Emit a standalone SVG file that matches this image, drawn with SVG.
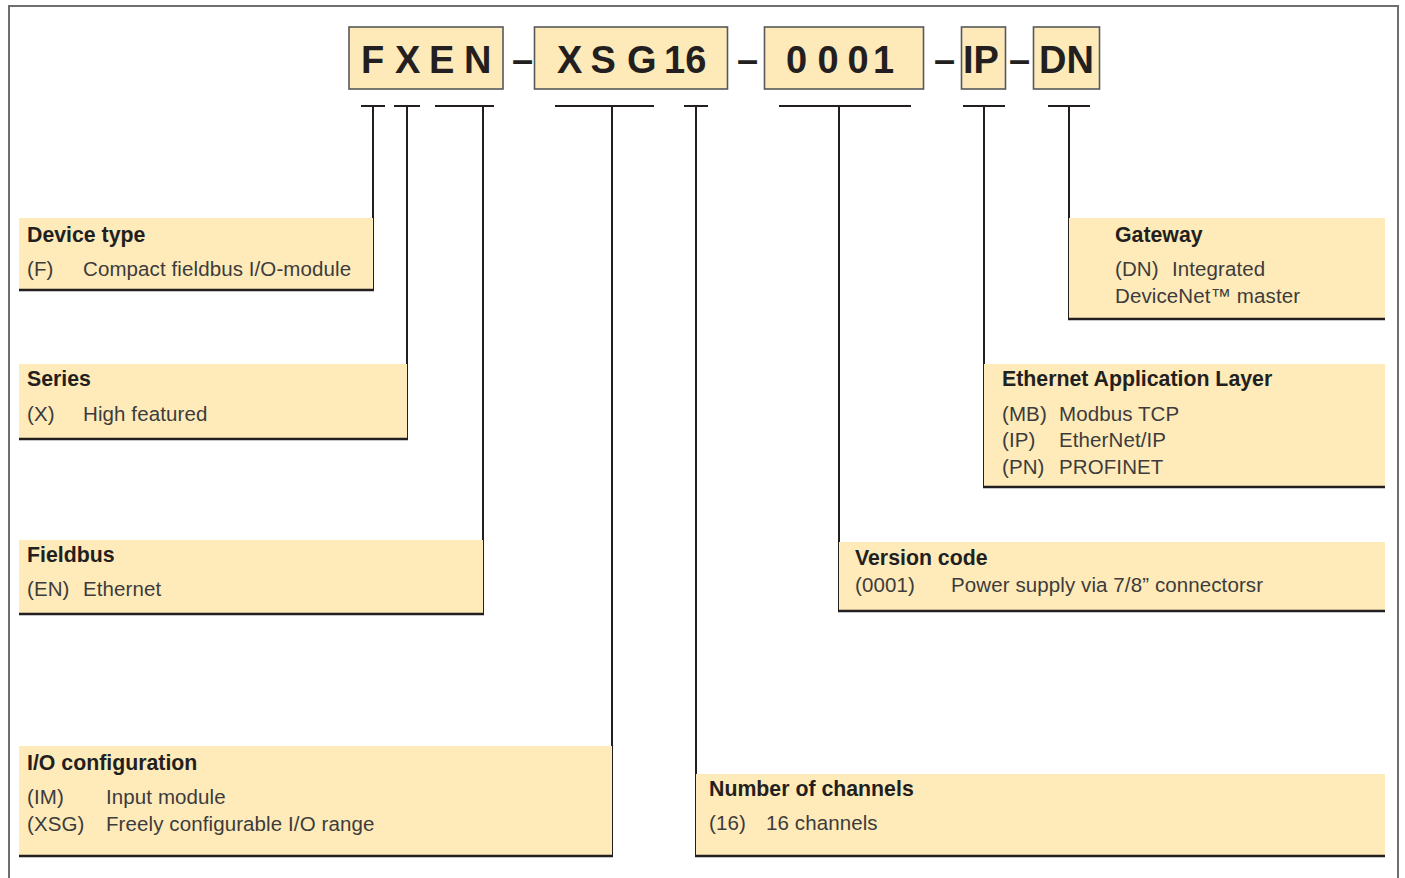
<svg xmlns="http://www.w3.org/2000/svg" width="1405" height="878" viewBox="0 0 1405 878">
<style>
.frame{fill:none;stroke:#6d6e70;stroke-width:2}
.hbox{fill:#fdeab8;stroke:#58585a;stroke-width:1.6}
.code{font-family:"Liberation Sans",Arial,sans-serif;font-weight:bold;font-size:38px;fill:#231f20}
.fill{fill:#feebb9}
.edge{stroke:#231f20;stroke-width:2.5;fill:none}
.con{stroke:#231f20;stroke-width:2;fill:none}
.t{font-family:"Liberation Sans",Arial,sans-serif;font-weight:bold;font-size:21.3px;fill:#231f20}
.b{font-family:"Liberation Sans",Arial,sans-serif;font-size:20.5px;letter-spacing:0.1px;fill:#3d3b3c}
</style>
<rect width="1405" height="878" fill="#ffffff"/>
<path class="frame" d="M9,878 V6 H1398 V878"/>

<g id="code">
<rect class="hbox" x="349" y="27" width="154" height="62"/>
<rect class="hbox" x="534.5" y="27" width="193" height="62"/>
<rect class="hbox" x="764.5" y="27" width="159" height="62"/>
<rect class="hbox" x="961.5" y="27" width="44" height="62"/>
<rect class="hbox" x="1033.5" y="27" width="66" height="62"/>
<text class="code" x="361 395 429 464" y="73">FXEN</text>
<text class="code" x="557 590.5 627" y="73">XSG</text>
<text class="code" x="664" y="73">16</text>
<text class="code" x="786 817.5 847.5 873" y="73">0001</text>
<text class="code" x="963" y="73">IP</text>
<text class="code" x="1039" y="73">DN</text>
<text class="code" x="512" y="73">–</text>
<text class="code" x="737" y="73">–</text>
<text class="code" x="934" y="73">–</text>
<text class="code" x="1009" y="73">–</text>
</g>

<g id="connectors">
<path class="con" d="M361,106 H385 M373,106 V291"/>
<path class="con" d="M394,106 H420 M407,106 V440"/>
<path class="con" d="M435,106 H494 M483,106 V615"/>
<path class="con" d="M555,106 H654 M612,106 V857"/>
<path class="con" d="M684,106 H708 M696,106 V857"/>
<path class="con" d="M779,106 H911 M839,106 V612"/>
<path class="con" d="M963,106 H1005 M984,106 V488"/>
<path class="con" d="M1048,106 H1090 M1069,106 V320"/>
</g>

<g id="device-type">
<rect class="fill" x="19" y="218" width="354" height="72"/>
<path class="edge" d="M19,290 H374"/>
<text class="t" x="27" y="242">Device type</text>
<text class="b" x="27" y="276">(F)</text>
<text class="b" x="83" y="276">Compact fieldbus I/O-module</text>
</g>

<g id="series">
<rect class="fill" x="19" y="364" width="388" height="75"/>
<path class="edge" d="M19,439 H408"/>
<text class="t" x="27" y="386">Series</text>
<text class="b" x="27" y="421">(X)</text>
<text class="b" x="83" y="421">High featured</text>
</g>

<g id="fieldbus">
<rect class="fill" x="19" y="540" width="464" height="74"/>
<path class="edge" d="M19,614 H484"/>
<text class="t" x="27" y="562">Fieldbus</text>
<text class="b" x="27" y="596">(EN)</text>
<text class="b" x="83" y="596">Ethernet</text>
</g>

<g id="io-configuration">
<rect class="fill" x="19" y="746" width="593" height="110"/>
<path class="edge" d="M19,856 H613"/>
<text class="t" x="27" y="770">I/O configuration</text>
<text class="b" x="27" y="804">(IM)</text>
<text class="b" x="106" y="804">Input module</text>
<text class="b" x="27" y="831">(XSG)</text>
<text class="b" x="106" y="831">Freely configurable I/O range</text>
</g>

<g id="number-of-channels">
<rect class="fill" x="696" y="774" width="689" height="82"/>
<path class="edge" d="M695,856 H1385"/>
<text class="t" x="709" y="796">Number of channels</text>
<text class="b" x="709" y="830">(16)</text>
<text class="b" x="766" y="830">16 channels</text>
</g>

<g id="version-code">
<rect class="fill" x="839" y="542" width="546" height="69"/>
<path class="edge" d="M838,611 H1385"/>
<text class="t" x="855" y="565">Version code</text>
<text class="b" x="855" y="592">(0001)</text>
<text class="b" x="951" y="592">Power supply via 7/8” connectorsr</text>
</g>

<g id="ethernet-application-layer">
<rect class="fill" x="984" y="364" width="401" height="123"/>
<path class="edge" d="M983,487 H1385"/>
<text class="t" x="1002" y="386">Ethernet Application Layer</text>
<text class="b" x="1002" y="421">(MB)</text>
<text class="b" x="1059" y="421">Modbus TCP</text>
<text class="b" x="1002" y="447">(IP)</text>
<text class="b" x="1059" y="447">EtherNet/IP</text>
<text class="b" x="1002" y="474">(PN)</text>
<text class="b" x="1059" y="474">PROFINET</text>
</g>

<g id="gateway">
<rect class="fill" x="1069" y="218" width="316" height="101"/>
<path class="edge" d="M1068,319 H1385"/>
<text class="t" x="1115" y="242">Gateway</text>
<text class="b" x="1115" y="276">(DN)</text>
<text class="b" x="1172" y="276">Integrated</text>
<text class="b" x="1115" y="303">DeviceNet™ master</text>
</g>
</svg>
